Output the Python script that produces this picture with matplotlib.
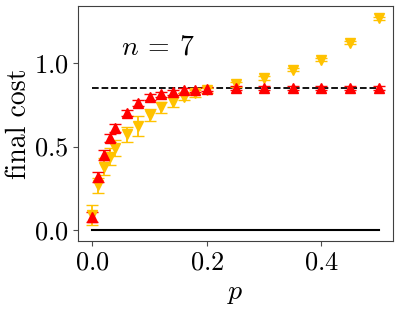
import matplotlib
matplotlib.use('Agg')
import matplotlib.pyplot as plt

plt.rcParams['font.family'] = 'cmr10'
plt.rcParams['mathtext.fontset'] = 'cm'
plt.rcParams['axes.formatter.use_mathtext'] = True

# data
p = [0.0, 0.01, 0.02, 0.03, 0.04, 0.06, 0.08, 0.10, 0.12, 0.14, 0.16, 0.18, 0.20,
     0.25, 0.30, 0.35, 0.40, 0.45, 0.50]
cost_red = [0.08, 0.32, 0.45, 0.55, 0.61, 0.70, 0.76, 0.795, 0.813, 0.823, 0.835, 0.84, 0.842,
            0.847, 0.848, 0.848, 0.848, 0.848, 0.848]
err_red = [0.03, 0.03, 0.03, 0.025, 0.022, 0.02, 0.018, 0.016, 0.015, 0.014, 0.013, 0.012, 0.012,
           0.012, 0.012, 0.012, 0.012, 0.012, 0.012]
cost_yel = [0.09, 0.27, 0.38, 0.44, 0.49, 0.572, 0.622, 0.687, 0.733, 0.767, 0.797, 0.817, 0.837,
            0.872, 0.91, 0.958, 1.018, 1.12, 1.265]
err_yel = [0.06, 0.045, 0.05, 0.05, 0.047, 0.042, 0.06, 0.035, 0.034, 0.03, 0.02, 0.02, 0.015,
           0.015, 0.012, 0.01, 0.01, 0.01, 0.01]
target = 0.849

fig = plt.figure(figsize=(3.99, 3.10), dpi=100)
ax = fig.add_axes([78/399, 1 - 241/310, 315/399, 235/310])

ax.plot([0, 0.5], [0, 0], color='black', lw=1.5)
ax.plot([0, 0.5], [target, target], color='black', lw=1.3, ls='--')
ax.errorbar(p, cost_yel, yerr=err_yel, fmt='v', color='#ffc200', ms=6.5, capsize=4, lw=1.3)
ax.errorbar(p, cost_red, yerr=err_red, fmt='^', color='red', ms=6.5, capsize=4, lw=1.3)

ax.text(0.135, 0.826, r'$n\:=\:7$', transform=ax.transAxes, fontsize=20, va='center')

ax.set_xticks([0.0, 0.2, 0.4])
ax.set_yticks([0.0, 0.5, 1.0])
ax.set_xticklabels([r'$0.0$', r'$0.2$', r'$0.4$'])
ax.set_yticklabels([r'$0.0$', r'$0.5$', r'$1.0$'])
ax.tick_params(labelsize=19, color='0.3')
ax.set_xlabel(r'$p$', fontsize=20)
ax.set_ylabel('final cost', fontsize=20, labelpad=1)
for s in ax.spines.values():
    s.set_color('0.25')

fig.savefig('out.png', dpi=100)
